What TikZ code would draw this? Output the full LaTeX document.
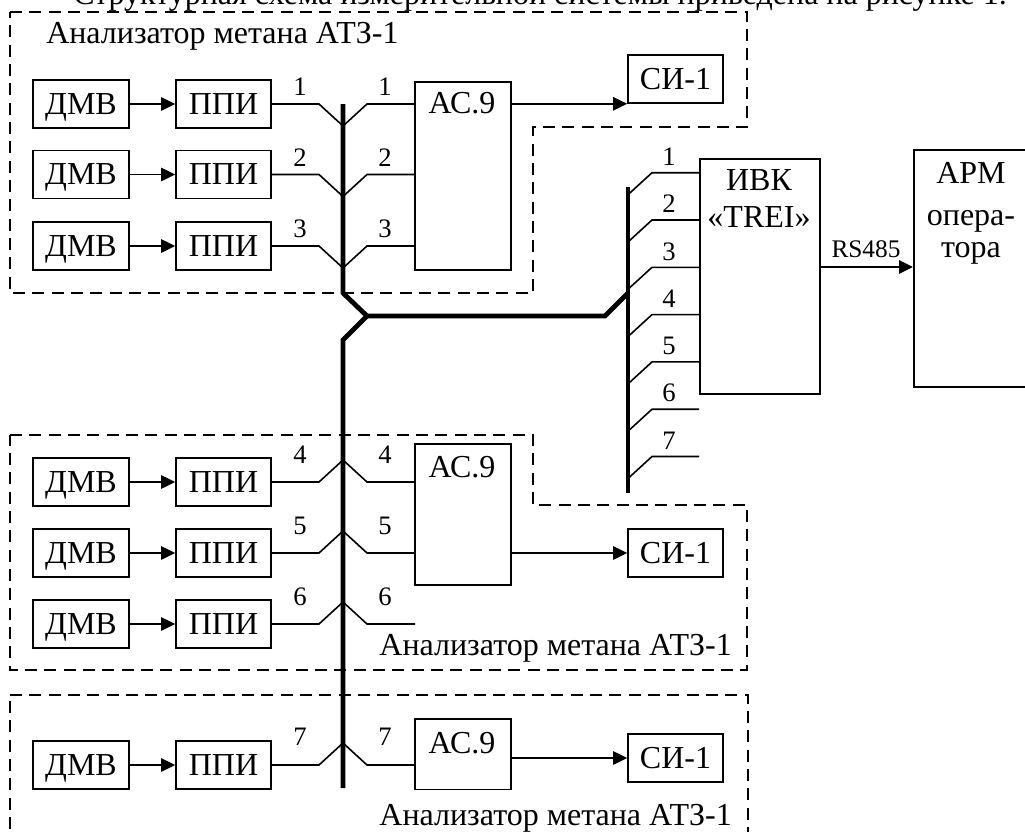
\documentclass[tikz,border=0pt]{standalone}
\usepackage{fontspec}
\setmainfont{Liberation Serif}
\usetikzlibrary{arrows.meta}
\begin{document}
\begin{tikzpicture}[x=0.75pt,y=-0.75pt,
  box/.style={draw, line width=1.2pt, inner sep=0pt, minimum height=36pt, text height=15.5pt, text depth=0pt, font=\fontsize{24}{26}\selectfont},
  dmv/.style={box, minimum width=72pt},
  ppi/.style={box, minimum width=71.25pt},
  tall/.style={draw, line width=1.2pt, inner sep=0pt, anchor=north west},
  thin/.style={line width=1.2pt},
  bus/.style={line width=3.6pt},
  grp/.style={line width=1.2pt, dash pattern=on 9pt off 5.5pt},
  arr/.style={line width=1.2pt, -{Triangle[length=10.5pt,width=10pt]}},
  num/.style={font=\fontsize{20}{22}\selectfont, inner sep=0pt},
  lbl/.style={font=\fontsize{24}{26}\selectfont, inner sep=0pt}
]
\useasboundingbox (0,0) rectangle (1025,832);

% cut caption at top
\node[lbl, anchor=base west] (cap) at (73,4) {Структурная схема измерительной системы приведена на рисунке 1.};

% ---------- group outlines ----------
\draw[grp] (10,12) -- (747,12) -- (747,127) -- (533,127) -- (533,293) -- (10,293) -- cycle;
\draw[grp] (10,435) -- (533,435) -- (533,505) -- (747,505) -- (747,670) -- (10,670) -- cycle;
\draw[grp] (10,695) -- (748,695) -- (748,836) -- (10,836) -- cycle;

\node[lbl, anchor=base west] (g1) at (46,43) {Анализатор метана АТЗ-1};
\node[lbl, anchor=base east] (g2) at (732,655) {Анализатор метана АТЗ-1};
\node[lbl, anchor=base east] (g3) at (732,825) {Анализатор метана АТЗ-1};

% ---------- group 1 ----------
\node[dmv] (d1) at (81,104) {ДМВ};
\node[dmv] (d2) at (81,174.5) {ДМВ};
\node[dmv] (d3) at (81,246) {ДМВ};
\node[ppi] (p1) at (223.5,104) {ППИ};
\node[ppi] (p2) at (223.5,174.5) {ППИ};
\node[ppi] (p3) at (223.5,246) {ППИ};
\foreach \i in {1,2,3} \draw[arr] (d\i) -- (p\i);
\node[tall, minimum width=72pt, minimum height=141pt] (a1) at (414,81) {};
\node[lbl] (a1t) at (462,103) {АС.9};
\node[box, minimum width=71.25pt] (s1) at (675.5,79) {СИ-1};
\draw[arr] (s1.south west -| a1.east) -- (s1.south west);

% ---------- group 2 ----------
\node[dmv] (d4) at (81,482) {ДМВ};
\node[dmv] (d5) at (81,553) {ДМВ};
\node[dmv] (d6) at (81,624) {ДМВ};
\node[ppi] (p4) at (223.5,482) {ППИ};
\node[ppi] (p5) at (223.5,553) {ППИ};
\node[ppi] (p6) at (223.5,624) {ППИ};
\foreach \i in {4,5,6} \draw[arr] (d\i) -- (p\i);
\node[tall, minimum width=72pt, minimum height=106pt] (a2) at (414,443) {};
\node[lbl] (a2t) at (462,467) {АС.9};
\node[box, minimum width=71.25pt] (s2) at (675.5,553) {СИ-1};
\draw[arr] (s2.west -| a2.east) -- (s2.west);

% ---------- group 3 ----------
\node[dmv] (d7) at (81,765) {ДМВ};
\node[ppi] (p7) at (223.5,765) {ППИ};
\draw[arr] (d7) -- (p7);
\node[tall, minimum width=72pt, minimum height=53pt] (a3) at (414,718) {};
\node[lbl] (a3t) at (462,743) {АС.9};
\node[box, minimum width=71.25pt] (s3) at (675.5,758) {СИ-1};
\draw[arr] (s3.west -| a3.east) -- (s3.west);

% ---------- buses ----------
\coordinate (lbT) at (343,104);
\coordinate (lbB) at (343,788);
\draw[bus] (lbT) -- (343,293) -- (367,316) -- (343,340) -- (lbB);
\coordinate (rbT) at (628,187);
\coordinate (rbB) at (628,493);
\draw[bus] (rbT) -- (rbB);
\draw[bus] (367,316) -- (605,316) -- (628,293);

% branches group 1 (junction below)
\foreach \i/\y in {1/104,2/174.5,3/246}{
  \coordinate (j\i) at (343,\y+22);
  \draw[thin] (p\i.east) -- (319,\y) -- (j\i) -- (367,\y) -- (a1.west |- p\i.east);
  \node[num] at (300,\y-17) {\i};
  \node[num] at (385,\y-17) {\i};
}
% branches group 2 (junction above)
\foreach \i/\y in {4/482,5/553}{
  \coordinate (j\i) at (343,\y-22);
  \draw[thin] (p\i.east) -- (319,\y) -- (j\i) -- (367,\y) -- (a2.west |- p\i.east);
  \node[num] at (300,\y-27) {\i};
  \node[num] at (385,\y-27) {\i};
}
\coordinate (j6) at (343,602);
\coordinate (e6) at (415,624);
\draw[thin] (p6.east) -- (319,624) -- (j6) -- (367,624) -- (e6);
\node[num] at (300,597) {6};
\node[num] at (385,597) {6};
% branch group 3
\coordinate (j7) at (343,743);
\draw[thin] (p7.east) -- (319,765) -- (j7) -- (367,765) -- (a3.west |- p7.east);
\node[num] at (300,737) {7};
\node[num] at (385,737) {7};

% ---------- IVK ----------
\node[tall, minimum width=90pt, minimum height=176.25pt] (ivk) at (699,158) {};
\node[lbl, anchor=base] (ivk1) at (759,190) {ИВК};
\node[lbl, anchor=base] (ivk2) at (759,227) {«TREI»};
\foreach \i in {1,...,7}{
  \pgfmathsetmacro{\yy}{172.7+47.3*(\i-1)}
  \coordinate (k\i) at (628,\yy+22);
  \coordinate (m\i) at (699,\yy);
  \draw[thin] (k\i) -- (652,\yy) -- (m\i);
  \node[num] at (669,\yy-16) {\i};
}

% ---------- APM ----------
\node[tall, minimum width=85.5pt, minimum height=177.75pt] (apm) at (913,149) {};
\node[lbl, anchor=base] (apm1) at (971,183) {АРМ};
\node[lbl, anchor=base] (apm2) at (971,225) {опера-};
\node[lbl, anchor=base] (apm3) at (971,257) {тора};
\draw[arr] (ivk.east |- 0,267) -- (apm.west |- 0,267);
\node[num, anchor=base, font=\fontsize{19}{20}\selectfont] (rs) at (866,257) {RS485};
\end{tikzpicture}
\end{document}
